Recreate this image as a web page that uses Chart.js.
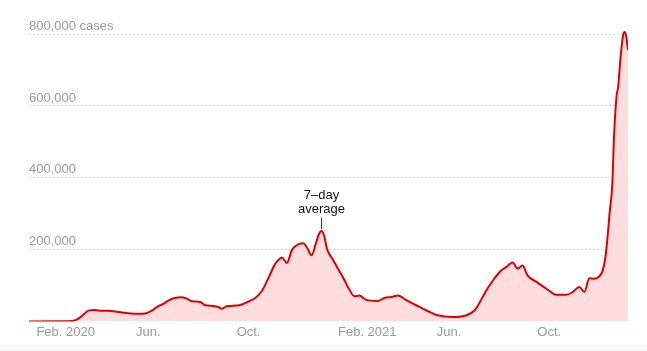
<!DOCTYPE html>
<html>
<head>
<meta charset="utf-8">
<script src="https://cdn.jsdelivr.net/npm/chart.js@4.4.1/dist/chart.umd.min.js"></script>
<style>
  html, body { margin: 0; padding: 0; background: #fff; }
  #wrap { width: 647px; height: 351px; background: linear-gradient(to bottom, #fff 345px, #f7f7f7 345px); }
  canvas { display: block; }
</style>
</head>
<body>
<div id="wrap"><canvas id="c" width="647" height="351"></canvas></div>
<script>
// ---- Data: US new cases, 7-day average ----
const dates = [
  "2020-01-23","2020-03-01","2020-03-15","2020-03-22","2020-03-29","2020-04-04","2020-04-11","2020-04-18",
  "2020-04-28","2020-05-08","2020-05-15","2020-05-25","2020-06-05","2020-06-12","2020-06-20","2020-06-27",
  "2020-07-04","2020-07-10","2020-07-19","2020-07-25","2020-08-01","2020-08-08","2020-08-18","2020-08-24",
  "2020-09-03","2020-09-09","2020-09-13","2020-09-19","2020-10-04","2020-10-14","2020-10-24","2020-11-01",
  "2020-11-09","2020-11-17","2020-11-21","2020-11-25","2020-12-01","2020-12-07","2020-12-11","2020-12-16",
  "2020-12-21","2020-12-26","2020-12-31","2021-01-05","2021-01-09","2021-01-12","2021-01-15","2021-01-19",
  "2021-01-25","2021-01-31","2021-02-08","2021-02-14","2021-02-21","2021-02-27","2021-03-07","2021-03-21",
  "2021-03-30","2021-04-07","2021-04-15","2021-04-25","2021-05-07","2021-05-19","2021-06-02","2021-06-20",
  "2021-07-07","2021-07-17","2021-07-21","2021-07-31","2021-08-08","2021-08-18","2021-08-24","2021-09-01",
  "2021-09-07","2021-09-13","2021-09-19","2021-09-30","2021-10-12","2021-10-24","2021-11-05","2021-11-13",
  "2021-11-21","2021-11-27","2021-12-03","2021-12-09","2021-12-15","2021-12-19","2021-12-22","2021-12-24",
  "2021-12-28","2021-12-31","2022-01-02","2022-01-05","2022-01-07","2022-01-10","2022-01-13","2022-01-15",
  "2022-01-17","2022-01-19"
];
const cases = [
  0, 300, 1000, 6000, 19000, 30000, 32000, 30000,
  30000, 27000, 25000, 22000, 21000, 22000, 30000, 41000,
  49000, 58000, 66000, 67000, 64000, 56000, 54000, 45000,
  43000, 40000, 35000, 42000, 45000, 54000, 66000, 86000,
  123000, 161000, 172000, 178000, 163000, 198000, 209000, 216000,
  218000, 203000, 184000, 216000, 244000, 252000, 240000, 200000,
  175000, 151000, 119000, 92000, 70000, 72000, 60000, 57000,
  66000, 68000, 72000, 59000, 45000, 31000, 17000, 12000,
  17000, 31000, 45000, 86000, 114000, 142000, 151000, 164000,
  147000, 156000, 128000, 110000, 91000, 74000, 74000, 82000,
  96000, 82000, 120000, 119000, 125000, 140000, 170000, 207000,
  309000, 384000, 514000, 625000, 653000, 737000, 797000, 806000,
  792000, 755000
];

// Axis ticks
const xTickDates  = ["2020-02-01","2020-06-01","2020-10-01","2021-02-01","2021-06-01","2021-10-01"];
const xTickLabels = ["Feb. 2020","Jun.","Oct.","Feb. 2021","Jun.","Oct."];
const yTickValues = [0, 200000, 400000, 600000, 800000];
const yTickLabels = ["", "200,000", "400,000", "600,000", "800,000 cases"];

// Annotation
const noteDate = "2021-01-12";
const noteLines = ["7\u2013day", "average"];

// ---- helpers ----
const dayNum = s => { const [y,m,d] = s.split("-").map(Number); return Date.UTC(y, m-1, d) / 86400000; };
const points = dates.map((d, i) => ({ x: dayNum(d), y: cases[i] }));

const FONT = "'Liberation Sans', Arial, Helvetica, sans-serif";

const notePlugin = {
  id: 'note',
  afterDatasetsDraw(chart) {
    const { ctx, scales: { x, y } } = chart;
    const idx = dates.indexOf(noteDate);
    const px = x.getPixelForValue(dayNum(noteDate));
    const py = y.getPixelForValue(cases[idx]);
    ctx.save();
    ctx.strokeStyle = '#333';
    ctx.lineWidth = 1;
    ctx.beginPath();
    ctx.moveTo(Math.round(px) + 0.5, py - 2);
    ctx.lineTo(Math.round(px) + 0.5, py - 13);
    ctx.stroke();
    ctx.fillStyle = '#121212';
    ctx.font = "13px " + FONT;
    ctx.textAlign = 'center';
    ctx.textBaseline = 'middle';
    ctx.fillText(noteLines[1], px, py - 22);
    ctx.fillText(noteLines[0], px, py - 36);
    ctx.restore();
  }
};

new Chart(document.getElementById('c'), {
  type: 'line',
  data: {
    datasets: [{
      data: points,
      borderColor: '#dd0000',
      borderWidth: 2,
      backgroundColor: '#fcdcdc',
      fill: 'origin',
      pointRadius: 0,
      cubicInterpolationMode: 'monotone'
    }]
  },
  options: {
    responsive: false,
    animation: false,
    devicePixelRatio: 1,
    layout: { padding: { left: 29, right: 19, top: 27, bottom: 8 } },
    plugins: { legend: { display: false }, tooltip: { enabled: false } },
    scales: {
      x: {
        type: 'linear',
        min: dayNum(dates[0]),
        max: dayNum(dates[dates.length - 1]),
        border: { display: false },
        grid: { display: false, drawTicks: false },
        afterBuildTicks: s => { s.ticks = xTickDates.map(d => ({ value: dayNum(d) })); },
        ticks: {
          autoSkip: false,
          maxRotation: 0,
          align: 'start',
          padding: 3,
          color: '#999',
          font: { family: FONT, size: 13 },
          callback: (v, i) => xTickLabels[i]
        }
      },
      y: {
        min: 0,
        max: 820000,
        z: 1,
        border: { display: false, dash: [2, 2] },
        grid: {
          drawTicks: false,
          color: ctx => ctx.tick && ctx.tick.value === 0 ? 'rgba(0,0,0,0)' : '#d9d9d9',
          lineWidth: 1
        },
        afterBuildTicks: s => { s.ticks = yTickValues.map(v => ({ value: v })); },
        ticks: {
          mirror: true,
          padding: 0,
          labelOffset: -8,
          color: '#999',
          font: { family: FONT, size: 13 },
          callback: (v, i) => yTickLabels[i]
        }
      }
    }
  },
  plugins: [notePlugin]
});
</script>
</body>
</html>
